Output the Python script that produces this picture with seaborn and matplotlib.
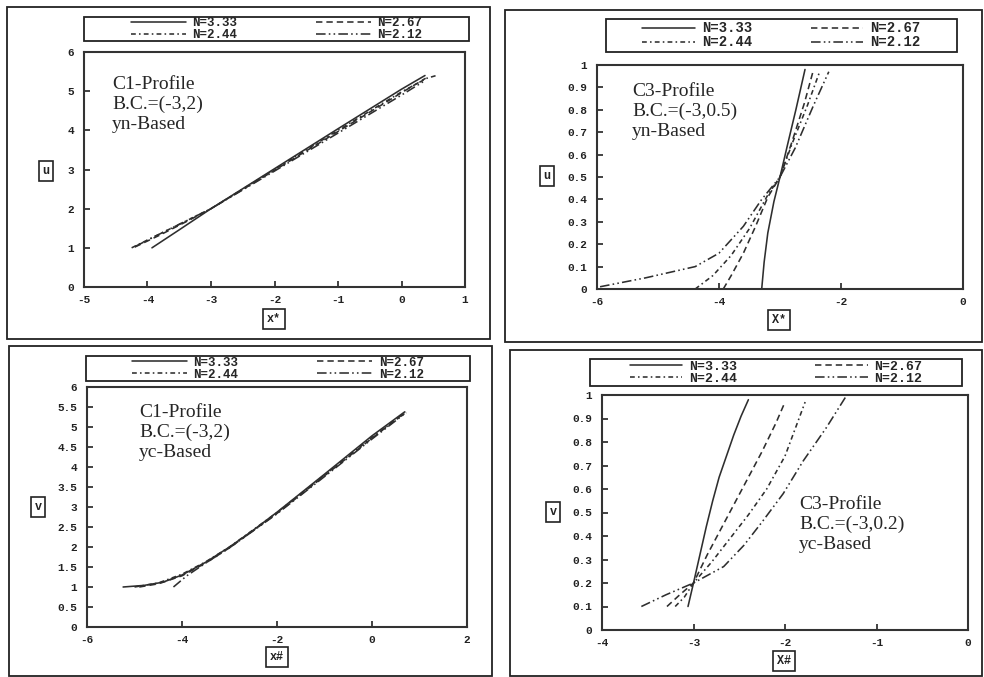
import numpy as np
import pandas as pd
import matplotlib
matplotlib.use("Agg")
import matplotlib.pyplot as plt
import seaborn as sns
from matplotlib.patches import Rectangle
from matplotlib.ticker import FuncFormatter, MultipleLocator

# series labels
labels = ["N=3.33", "N=2.67", "N=2.44", "N=2.12"]

# C1 profile, yn-based (x*, u)
c1n_x333 = [-3.93, -3.5, -3.0, -2.0, -1.0, 0.0, 0.37]
c1n_y333 = [1.0, 1.46, 2.0, 3.02, 4.04, 5.05, 5.40]
c1n_x267 = [-4.2, -3.8, -3.4, -3.0, -2.0, -1.0, 0.0, 0.38]
c1n_y267 = [1.02, 1.33, 1.66, 2.0, 2.98, 3.97, 4.96, 5.33]
c1n_x244 = [-4.25, -3.8, -3.4, -3.0, -2.0, -1.0, 0.0, 0.4, 0.57]
c1n_y244 = [1.0, 1.36, 1.68, 2.0, 3.0, 4.0, 4.98, 5.33, 5.41]
c1n_x212 = [-4.2, -3.8, -3.4, -3.0, -2.0, -1.0, 0.0, 0.35]
c1n_y212 = [1.03, 1.36, 1.68, 2.0, 2.96, 3.93, 4.9, 5.25]

# C3 profile, yn-based (X*, u)
c3n_x333 = [-3.30, -3.26, -3.20, -3.10, -3.00, -2.88, -2.74, -2.59]
c3n_y333 = [0.0, 0.12, 0.25, 0.39, 0.5, 0.64, 0.8, 0.98]
c3n_x267 = [-3.93, -3.80, -3.60, -3.40, -3.20, -3.00, -2.80, -2.60, -2.45]
c3n_y267 = [0.0, 0.06, 0.16, 0.28, 0.41, 0.5, 0.66, 0.83, 0.98]
c3n_x244 = [-4.39, -4.10, -3.80, -3.50, -3.20, -3.00, -2.80, -2.55, -2.35]
c3n_y244 = [0.0, 0.06, 0.15, 0.27, 0.42, 0.5, 0.65, 0.82, 0.97]
c3n_x212 = [-5.95, -5.20, -4.39, -4.00, -3.60, -3.30, -3.00, -2.75, -2.45, -2.20]
c3n_y212 = [0.01, 0.05, 0.10, 0.16, 0.28, 0.40, 0.5, 0.63, 0.82, 0.97]

# C1 profile, yc-based (x#, v)
c1c_x333 = [-5.24, -4.8, -4.4, -4.0, -3.5, -3.0, -2.5, -2.0, -1.0, 0.0, 0.69]
c1c_y333 = [1.0, 1.04, 1.12, 1.3, 1.62, 2.0, 2.42, 2.87, 3.82, 4.78, 5.38]
c1c_x267 = [-4.9, -4.5, -4.0, -3.5, -3.0, -2.0, -1.0, 0.0, 0.65]
c1c_y267 = [1.0, 1.08, 1.28, 1.6, 1.98, 2.84, 3.78, 4.72, 5.32]
c1c_x244 = [-5.0, -4.5, -4.0, -3.5, -3.0, -2.0, -1.0, 0.0, 0.7]
c1c_y244 = [1.0, 1.1, 1.32, 1.63, 2.0, 2.86, 3.8, 4.74, 5.35]
c1c_x212 = [-4.18, -3.9, -3.5, -3.0, -2.0, -1.0, 0.0, 0.72]
c1c_y212 = [1.0, 1.28, 1.6, 1.98, 2.83, 3.76, 4.7, 5.36]

# C3 profile, yc-based (X#, v)
c3c_x333 = [-3.06, -3.0, -2.93, -2.86, -2.79, -2.72, -2.64, -2.56, -2.48, -2.4]
c3c_y333 = [0.1, 0.2, 0.32, 0.44, 0.55, 0.65, 0.74, 0.83, 0.91, 0.98]
c3c_x267 = [-3.29, -3.15, -3.0, -2.85, -2.7, -2.55, -2.4, -2.25, -2.1, -2.0]
c3c_y267 = [0.1, 0.15, 0.2, 0.32, 0.43, 0.54, 0.65, 0.76, 0.88, 0.97]
c3c_x244 = [-3.2, -3.1, -3.0, -2.8, -2.6, -2.4, -2.2, -2.0, -1.78]
c3c_y244 = [0.1, 0.14, 0.2, 0.29, 0.39, 0.49, 0.6, 0.74, 0.97]
c3c_x212 = [-3.57, -3.3, -3.0, -2.67, -2.45, -2.25, -2.02, -1.8, -1.55, -1.34]
c3c_y212 = [0.1, 0.15, 0.2, 0.27, 0.36, 0.46, 0.58, 0.72, 0.86, 0.99]

styles = ["-", (0, (4, 2.5)), (0, (3, 2, 1, 2)), (0, (6, 2, 1, 2, 1, 2))]
LINE = "#2e2e2e"

sns.set_style("white")
W, H = 984, 677
fig = plt.figure(figsize=(W / 100, H / 100), dpi=100)


def fx(px):
    return px / W


def fy(py):
    return 1 - py / H


def add_box(x0, y0, x1, y1, lw=1.3):
    fig.patches.append(Rectangle((fx(x0), fy(y1)), fx(x1 - x0), (y1 - y0) / H,
                                 transform=fig.transFigure, fill=False,
                                 edgecolor="#222222", lw=lw))


def label_box(cx, cy, txt):
    fig.text(fx(cx), fy(cy), txt, ha="center", va="center", fontsize=8.5,
             family="Liberation Mono", weight="bold", color="#222222",
             bbox=dict(boxstyle="square,pad=0.3", fc="white", ec="#222222", lw=1.2))


def panel(rect, xs, ys, xlim, ylim, xstep, ystep, leg, leg_fs, hlen, cspace,
          note, note_xy):
    l, t, r, b = rect
    ax = fig.add_axes([fx(l), fy(b), fx(r - l), (b - t) / H])
    for i in range(4):
        sns.lineplot(x=xs[i], y=ys[i], ax=ax, color=LINE, linestyle=styles[i],
                     lw=1.15, estimator=None, label=labels[i], legend=False)
    ax.set_xlim(*xlim)
    ax.set_ylim(*ylim)
    ax.xaxis.set_major_locator(MultipleLocator(xstep))
    ax.yaxis.set_major_locator(MultipleLocator(ystep))
    ax.yaxis.set_major_formatter(FuncFormatter(lambda v, p: f"{v:g}"))
    ax.xaxis.set_major_formatter(FuncFormatter(lambda v, p: f"{v:g}"))
    ax.tick_params(direction="in", length=4, width=1.2, labelsize=8,
                   colors="#222222", bottom=True, left=True, pad=7)
    ax.tick_params(axis="x", pad=6)
    for lab in ax.get_xticklabels() + ax.get_yticklabels():
        lab.set_family("Liberation Mono")
        lab.set_weight("bold")
    for s in ax.spines.values():
        s.set_color("#333333")
        s.set_linewidth(1.5)
    ax.set_xlabel("")
    ax.set_ylabel("")
    fig.text(fx(note_xy[0]), fy(note_xy[1]), note, ha="left", va="top",
             fontsize=14, family="Liberation Serif", linespacing=1.2)
    lx0, ly0, lx1, ly1 = leg
    add_box(lx0, ly0, lx1, ly1)
    lines = ax.get_lines()[:4]
    order = [0, 2, 1, 3]
    fig.legend([lines[k] for k in order], [labels[k] for k in order], ncol=2,
               bbox_to_anchor=(fx((lx0 + lx1) / 2), fy((ly0 + ly1) / 2)),
               loc="center", frameon=False, borderpad=0, labelspacing=0.0,
               handlelength=hlen, handletextpad=0.5, columnspacing=cspace,
               prop=dict(family="Liberation Mono", weight="bold", size=leg_fs))
    return ax


# outer panel frames
add_box(7, 7, 490, 339)
add_box(505, 10, 982, 342)
add_box(9, 346, 492, 676)
add_box(510, 350, 982, 676)

panel((84, 52, 465, 287),
      [c1n_x333, c1n_x267, c1n_x244, c1n_x212],
      [c1n_y333, c1n_y267, c1n_y244, c1n_y212],
      (-5, 1), (0, 6), 1, 1, (84, 17, 469, 41), 9, 4.4, 6.3,
      "C1-Profile\nB.C.=(-3,2)\nyn-Based", (112, 76))
panel((597, 65, 963, 289),
      [c3n_x333, c3n_x267, c3n_x244, c3n_x212],
      [c3n_y333, c3n_y267, c3n_y244, c3n_y212],
      (-6, 0), (0, 1), 2, 0.1, (606, 19, 957, 52), 10, 3.8, 4.2,
      "C3-Profile\nB.C.=(-3,0.5)\nyn-Based", (632, 83))
panel((87, 387, 467, 627),
      [c1c_x333, c1c_x267, c1c_x244, c1c_x212],
      [c1c_y333, c1c_y267, c1c_y244, c1c_y212],
      (-6, 2), (0, 6), 2, 0.5, (86, 356, 470, 381), 9, 4.4, 6.3,
      "C1-Profile\nB.C.=(-3,2)\nyc-Based", (139, 404))
panel((602, 395, 968, 630),
      [c3c_x333, c3c_x267, c3c_x244, c3c_x212],
      [c3c_y333, c3c_y267, c3c_y244, c3c_y212],
      (-4, 0), (0, 1), 1, 0.1, (590, 359, 962, 386), 9.5, 4.0, 5.9,
      "C3-Profile\nB.C.=(-3,0.2)\nyc-Based", (799, 496))

# axis name boxes
label_box(46, 171, "u")
label_box(274, 319, "x*")
label_box(547, 176, "u")
label_box(779, 320, "X*")
label_box(38, 507, "v")
label_box(277, 657, "x#")
label_box(553, 512, "v")
label_box(784, 661, "X#")

fig.savefig("out.png", dpi=100)
